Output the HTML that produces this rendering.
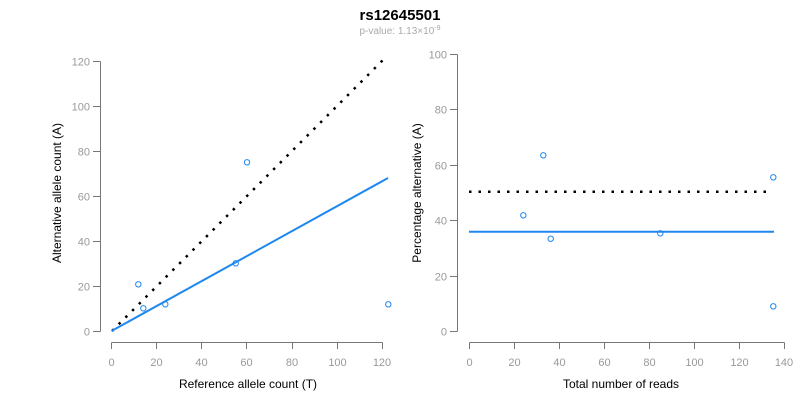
<!DOCTYPE html>
<html><head><meta charset="utf-8"><style>
body{margin:0;background:#fff}
svg text{font-family:"Liberation Sans",Arial,sans-serif}
</style></head><body>
<svg width="800" height="400" xmlns="http://www.w3.org/2000/svg">
<text x="400" y="20" text-anchor="middle" font-size="15" font-weight="bold" fill="#000">rs12645501</text>
<text x="400" y="34" text-anchor="middle" font-size="10" fill="#aaa">p-value: 1.13×10<tspan dy="-4" font-size="7">-9</tspan></text>
<g stroke="#777" stroke-width="1" fill="none">
<!-- left y axis -->
<path d="M100.5 61.5V331.5"/>
<path d="M93 61.5H100.5M93 106.5H100.5M93 151.5H100.5M93 196.5H100.5M93 241.5H100.5M93 286.5H100.5M93 331.5H100.5"/>
<!-- left x axis -->
<path d="M111.5 342.5H382.5"/>
<path d="M111.5 342.5V349M156.5 342.5V349M201.5 342.5V349M246.5 342.5V349M292.5 342.5V349M337.5 342.5V349M382.5 342.5V349"/>
<!-- right y axis -->
<path d="M457.5 54.5V331.5"/>
<path d="M450 54.5H457.5M450 109.5H457.5M450 165.5H457.5M450 220.5H457.5M450 276.5H457.5M450 331.5H457.5"/>
<!-- right x axis -->
<path d="M469.5 342.5H784.5"/>
<path d="M469.5 342.5V349M514.5 342.5V349M559.5 342.5V349M604.5 342.5V349M649.5 342.5V349M694.5 342.5V349M739.5 342.5V349M784.5 342.5V349"/>
</g>
<g font-size="11" fill="#999" text-anchor="end">
<text x="90" y="65.5">120</text><text x="90" y="110.5">100</text><text x="90" y="155.5">80</text><text x="90" y="200.5">60</text><text x="90" y="245.5">40</text><text x="90" y="290.5">20</text><text x="90" y="335.5">0</text>
<text x="447" y="58.5">100</text><text x="447" y="113.5">80</text><text x="447" y="169.5">60</text><text x="447" y="224.5">40</text><text x="447" y="280.5">20</text><text x="447" y="335.5">0</text>
</g>
<g font-size="11" fill="#999" text-anchor="middle">
<text x="111.5" y="366">0</text><text x="156.5" y="366">20</text><text x="201.5" y="366">40</text><text x="246.5" y="366">60</text><text x="292" y="366">80</text><text x="337.5" y="366">100</text><text x="382" y="366">120</text>
<text x="469.5" y="366">0</text><text x="514.5" y="366">20</text><text x="559.5" y="366">40</text><text x="604.5" y="366">60</text><text x="649.5" y="366">80</text><text x="694.5" y="366">100</text><text x="739.5" y="366">120</text><text x="784" y="366">140</text>
</g>
<g font-size="12" fill="#000" text-anchor="middle">
<text x="248" y="388">Reference allele count (T)</text>
<text x="621" y="388">Total number of reads</text>
<text transform="translate(61,193) rotate(-90)">Alternative allele count (A)</text>
<text transform="translate(421,193) rotate(-90)">Percentage alternative (A)</text>
</g>
<line x1="112" y1="331" x2="387" y2="56" stroke="#000" stroke-width="2.5" stroke-dasharray="2.5,7"/>
<line x1="111.5" y1="331" x2="388" y2="178" stroke="#1e88f0" stroke-width="2"/>
<line x1="469" y1="191.7" x2="768" y2="191.7" stroke="#000" stroke-width="2.5" stroke-dasharray="2.5,7"/>
<line x1="469" y1="231.7" x2="774" y2="231.7" stroke="#1e88f0" stroke-width="2"/>
<g fill="none" stroke="#1e88f0" stroke-width="1">
<circle cx="138.3" cy="284.3" r="2.7"/><circle cx="143.3" cy="308.3" r="2.7"/><circle cx="165.3" cy="304.3" r="2.7"/><circle cx="235.7" cy="263.3" r="2.7"/><circle cx="247" cy="162.3" r="2.7"/><circle cx="388.3" cy="304.3" r="2.7"/>
<circle cx="523.3" cy="215.3" r="2.7"/><circle cx="543.3" cy="155.3" r="2.7"/><circle cx="550.7" cy="238.7" r="2.7"/><circle cx="660.3" cy="233.3" r="2.7"/><circle cx="773.3" cy="177.3" r="2.7"/><circle cx="773.3" cy="306.3" r="2.7"/>
</g>
</svg>
</body></html>
